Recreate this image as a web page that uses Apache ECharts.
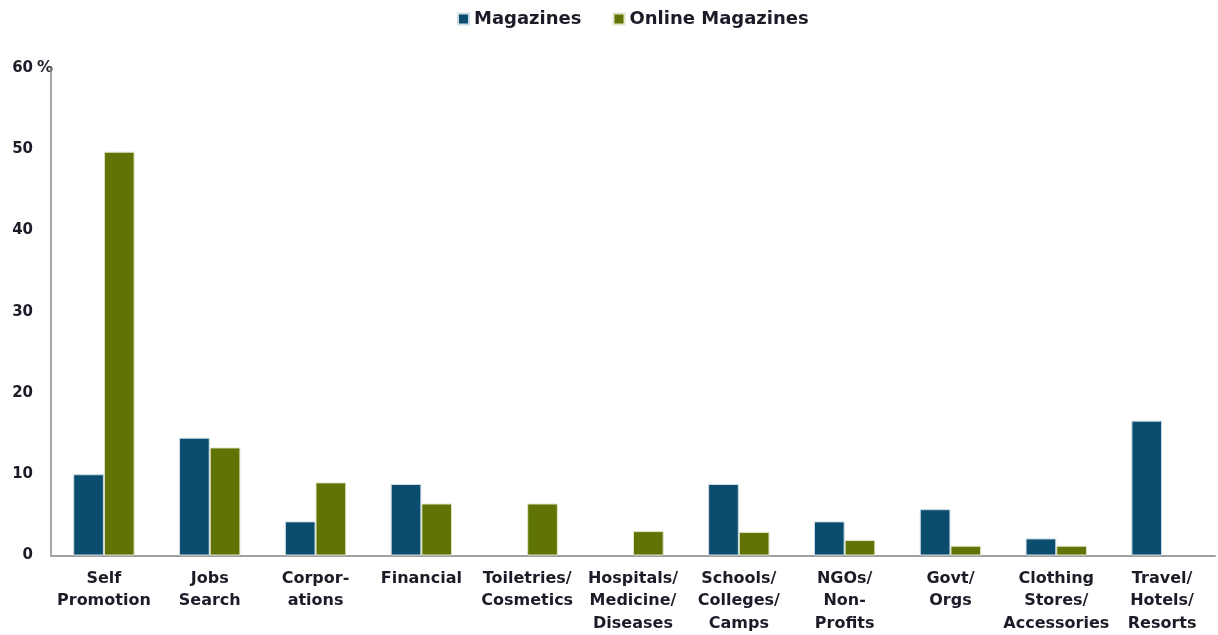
<!DOCTYPE html>
<html>
<head>
<meta charset="utf-8">
<script src="https://cdn.jsdelivr.net/npm/echarts@6/dist/echarts.min.js"></script>
<style>
    html, body { margin: 0; padding: 0; background: #fff; }
    #chart { width: 1218px; height: 635px; }
</style>
</head>
<body>
<div id="chart"></div>
<script>
    // data (0 = no bar drawn)
    let categories = [
        "Self\nPromotion",
        "Jobs\nSearch",
        "Corpor-\nations",
        "Financial",
        "Toiletries/\nCosmetics",
        "Hospitals/\nMedicine/\nDiseases",
        "Schools/\nColleges/\nCamps",
        "NGOs/\nNon-\nProfits",
        "Govt/\nOrgs",
        "Clothing\nStores/\nAccessories",
        "Travel/\nHotels/\nResorts",
    ];
    let magazines = [10.0, 14.5, 4.2, 8.8, 0, 0, 8.8, 4.2, 5.7, 2.1, 16.6];
    let onlineMagazines = [49.7, 13.3, 9.0, 6.4, 6.4, 3.0, 2.9, 1.9, 1.2, 1.2, 0];
    let legend = ["Magazines", "Online Magazines"];

    let font = "DejaVu Sans";
    let textColor = "#1c1c28";
    let hideZero = (arr) => arr.map((v) => (v === 0 ? null : v));

    let myChart = echarts.init(document.getElementById("chart"));
    myChart.setOption({
        animation: false,
        textStyle: { fontFamily: font },
        legend: {
            data: legend,
            top: 5,
            left: 452,
            itemWidth: 11,
            itemHeight: 11,
            itemGap: 31,
            icon: "rect",
            textStyle: { color: textColor, fontSize: 18, fontWeight: "bold", fontFamily: font },
        },
        grid: { left: 51, right: 3, top: 68, bottom: 79 },
        xAxis: {
            type: "category",
            data: categories,
            axisLine: { lineStyle: { color: "#a0a0a0", width: 2 } },
            axisTick: { show: false },
            axisLabel: {
                interval: 0,
                color: textColor,
                fontSize: 16,
                fontWeight: "bold",
                lineHeight: 22.5,
                margin: 12,
            },
        },
        yAxis: {
            type: "value",
            min: 0,
            max: 60,
            interval: 10,
            name: "%",
            nameLocation: "end",
            nameGap: 0,
            nameMoveOverlap: false,
            nameTextStyle: {
                color: textColor,
                fontSize: 16,
                fontWeight: "bold",
                align: "right",
                verticalAlign: "middle",
                padding: [0, -2, 0, 0],
            },
            axisLine: { show: true, lineStyle: { color: "#8a8a8a", width: 1.5 } },
            axisTick: { show: false },
            splitLine: { show: false },
            axisLabel: { color: textColor, fontSize: 15, fontWeight: "bold", margin: 18 },
        },
        series: [
            {
                type: "bar",
                name: legend[0],
                data: hideZero(magazines),
                barWidth: "29%",
                barGap: "0%",
                itemStyle: { color: "#0a4d6e", borderColor: "#cfdde6", borderWidth: 1 },
            },
            {
                type: "bar",
                name: legend[1],
                data: hideZero(onlineMagazines),
                barWidth: "29%",
                barGap: "0%",
                itemStyle: { color: "#5f7404", borderColor: "#dfe6c8", borderWidth: 1 },
            },
        ],
    });
</script>
</body>
</html>
